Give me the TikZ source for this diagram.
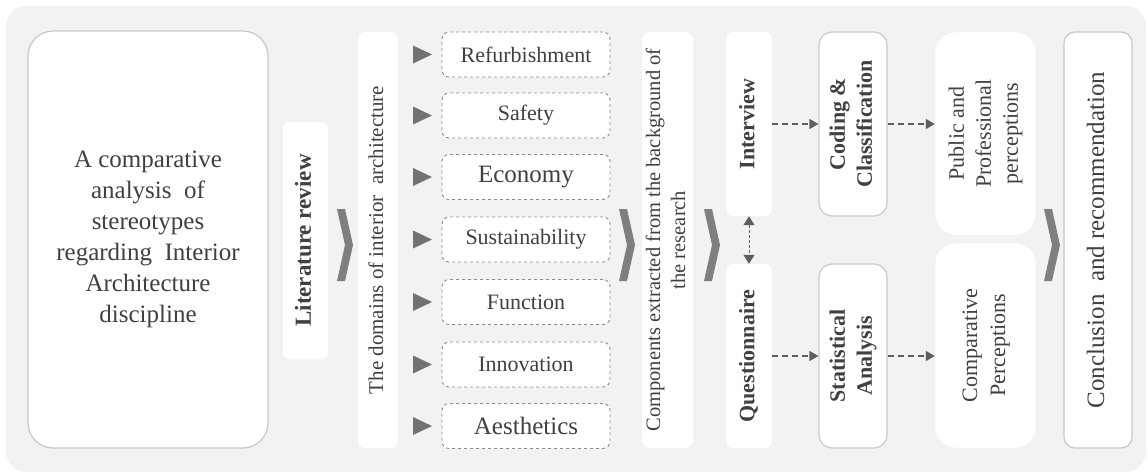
\documentclass[tikz,border=0pt]{standalone}
\usepackage{fontspec}
\setmainfont{Liberation Serif}
\usepackage{xcolor}
\usepackage{graphicx}
\usepackage{tikz}
\usetikzlibrary{arrows.meta}

\definecolor{panel}{HTML}{F2F2F2}
\definecolor{ink}{HTML}{404040}
\definecolor{rim}{HTML}{C8C8C8}
\definecolor{dashgray}{HTML}{8C8C8C}
\definecolor{chev}{HTML}{7F7F7F}
\definecolor{arrowgray}{HTML}{5E5E5E}
\definecolor{bullet}{HTML}{767171}

\newcommand{\uptext}[2]{\rotatebox{90}{#1\selectfont\begin{tabular}{@{}c@{}}#2\end{tabular}}}

\begin{document}
\begin{tikzpicture}[x=1pt,y=-1pt,
  panelbox/.style={fill=white, rounded corners=7pt, inner sep=0pt, text=ink},
  rimbox/.style={panelbox, draw=rim, line width=1.2pt},
  itembox/.style={panelbox, draw=dashgray, dashed, line width=0.9pt, minimum width=168pt, minimum height=45pt},
  dasharrow/.style={draw=arrowgray, line width=1.4pt, dash pattern=on 6pt off 4pt, -{Triangle[length=9pt,width=10pt]}}]
\useasboundingbox (0,0) rectangle (1148,474);
\fill[panel, rounded corners=20pt] (6,6) rectangle (1146,472);

\node[rimbox, rounded corners=25pt, minimum width=240pt, minimum height=417pt, align=center,
  font=\fontsize{25}{31}\selectfont] (topic) at (148,239.5)
  {A comparative\\analysis~ of\\stereotypes\\regarding~ Interior\\Architecture\\discipline};
\node[panelbox, rounded corners=6pt, minimum width=45pt, minimum height=237pt] (review) at (305.5,240.5)
  {\uptext{\fontsize{23}{27}\bfseries}{Literature review}};
\node[panelbox, minimum width=40pt, minimum height=416pt] (domains) at (378,240)
  {\uptext{\fontsize{21}{25}}{The domains of interior~ architecture}};

\foreach \y/\n/\s/\t in {54.5/refurb/22/Refurbishment, 115.5/safety/22/Safety, 177/economy/25/Economy,
  239.5/sustain/22/Sustainability, 302/function/22/Function, 364.5/innov/22/Innovation, 426/aesth/25/Aesthetics}{
  \fill[bullet] (413,\y-9) -- (432,\y) -- (413,\y+9) -- cycle;
  \node[itembox, font=\fontsize{\s}{\s}\selectfont] (\n) at (526,\y) {\t};
}

\node[panelbox, rounded corners=8pt, minimum width=51pt, minimum height=416pt] (components) at (667.5,240)
  {\uptext{\fontsize{20.5}{25}}{Components extracted from the background of\\the research}};
\node[panelbox, minimum width=46pt, minimum height=184pt] (interview) at (749,124)
  {\uptext{\fontsize{22}{27}\bfseries}{Interview}};
\node[panelbox, minimum width=46pt, minimum height=184pt] (quest) at (749,356)
  {\uptext{\fontsize{22}{27}\bfseries}{Questionnaire}};
\node[rimbox, rounded corners=13pt, minimum width=68pt, minimum height=184pt] (coding) at (853,124)
  {\uptext{\fontsize{22}{27}\bfseries}{Coding \&\\Classification}};
\node[rimbox, rounded corners=13pt, minimum width=68pt, minimum height=184pt] (stats) at (853,356)
  {\uptext{\fontsize{22}{27}\bfseries}{Statistical\\Analysis}};
\node[panelbox, draw=black!8, rounded corners=20pt, minimum width=101pt, minimum height=203pt] (public) at (985.5,133.5)
  {\uptext{\fontsize{22}{27}}{Public and\\Professional\\perceptions}};
\node[panelbox, draw=black!8, rounded corners=20pt, minimum width=101pt, minimum height=205pt] (compare) at (985.5,345.5)
  {\uptext{\fontsize{22}{28}}{Comparative\\Perceptions}};
\node[rimbox, rounded corners=11pt, minimum width=68pt, minimum height=416pt] (conclusion) at (1098,240)
  {\uptext{\fontsize{25}{30}}{Conclusion~ and recommendation}};

\foreach \x in {337,619,704,1044}
  \fill[chev] (\x,209) -- (\x+8,209) -- (\x+16,245) -- (\x+8,281) -- (\x,281) -- (\x+8,245) -- cycle;

\draw[dasharrow] (interview) -- (coding);
\draw[dasharrow] (coding.east) -- (coding.east -| public.west);
\draw[dasharrow] (quest) -- (stats);
\draw[dasharrow] (stats.east) -- (stats.east -| compare.west);
\draw[dasharrow, line width=1pt, dash pattern=on 3pt off 2pt,
  {Triangle[length=9pt,width=11pt]}-{Triangle[length=9pt,width=11pt]}] (interview) -- (quest);
\end{tikzpicture}
\end{document}
